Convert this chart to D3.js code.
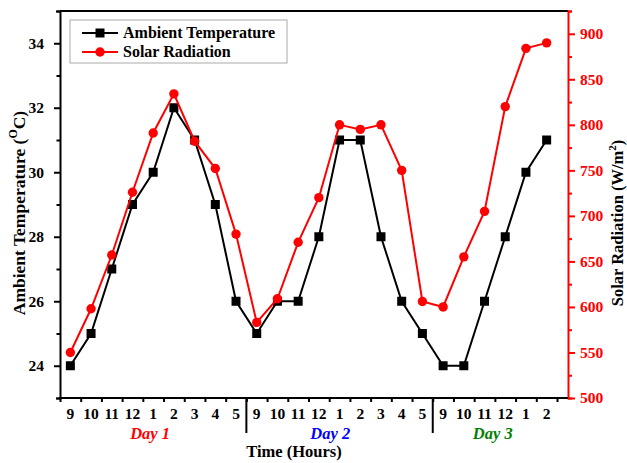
<!DOCTYPE html>
<html>
<head>
<meta charset="utf-8">
<script src="https://cdn.jsdelivr.net/npm/d3@7"></script>
<style>
  html, body { margin: 0; padding: 0; background: #fff; }
  svg { display: block; font-family: "Liberation Serif", "Times New Roman", serif; font-weight: bold; }
</style>
</head>
<body>
<svg id="chart" width="627" height="463"></svg>
<script>
// Hour labels for the three measurement days
const hours = ["9","10","11","12","1","2","3","4","5",
               "9","10","11","12","1","2","3","4","5",
               "9","10","11","12","1","2"];
const dayNames = ["Day 1", "Day 2", "Day 3"];
const dayColors = ["#ff0000", "#0000ff", "#008000"];
const daySizes = [9, 9, 6];
// where each day name sits, in hour-slot units along the time axis
const dayLabelAt = [4.35, 13.05, 20.9];

// Ambient temperature (°C)
const temperature = [24, 25, 27, 29, 30, 32, 31, 29, 26,
                     25, 26, 26, 28, 31, 31, 28, 26, 25,
                     24, 24, 26, 28, 30, 31];
// Solar radiation (W/m²)
const radiation = [550, 598, 657, 726, 791, 834, 782, 752, 680,
                   583, 609, 671, 720, 800, 795, 800, 750, 606,
                   600, 655, 705, 820, 884, 890];

const tempTicks = [24, 26, 28, 30, 32, 34];
const radTicks = [500, 550, 600, 650, 700, 750, 800, 850, 900];

const svg = d3.select("#chart");
const plotL = 60, plotR = 568, plotT = 11, plotB = 398, bandEnd = 557;

const idx = d3.range(hours.length);
const x = d3.scaleBand().domain(idx).range([plotL, bandEnd]).padding(0);
const xb = d3.scaleLinear().domain([0, hours.length]).range([plotL, bandEnd]);
const yT = d3.scaleLinear().domain([23, 35]).range([plotB, plotT]);
const yR = d3.scaleLinear().domain([500, 925]).range([plotB, plotT]);
const cx = i => x(i) + x.bandwidth() / 2;

// Frame: top edge
svg.append("line").attr("x1", plotL).attr("x2", plotR).attr("y1", plotT).attr("y2", plotT)
  .attr("stroke", "#000").attr("stroke-width", 2);

// Left axis (temperature)
const gL = svg.append("g").attr("transform", `translate(${plotL},0)`);
gL.call(d3.axisLeft(yT).tickValues(d3.range(23, 36)).tickSizeOuter(0).tickSize(4).tickFormat(""));
gL.selectAll(".tick line").attr("stroke-width", 2)
  .attr("x2", d => tempTicks.includes(d) ? -6 : -3.5);
gL.select(".domain").attr("stroke-width", 2);
const gL2 = svg.append("g").attr("transform", `translate(${plotL},0)`);
gL2.call(d3.axisLeft(yT).tickValues(tempTicks).tickSize(0).tickPadding(16));
gL2.select(".domain").remove();
gL2.selectAll("text").attr("font-size", 15.5).attr("font-weight", "bold")
  .attr("font-family", "Liberation Serif").attr("fill", "#000");

// Right axis (radiation)
const gR = svg.append("g").attr("transform", `translate(${plotR},0)`);
gR.call(d3.axisRight(yR).tickValues(d3.range(500, 926, 25)).tickSizeOuter(0).tickSize(4).tickFormat(""));
gR.selectAll(".tick line").attr("stroke", "#ff0000").attr("stroke-width", 2)
  .attr("x2", d => radTicks.includes(d) ? 7 : 4);
gR.select(".domain").attr("stroke", "#ff0000").attr("stroke-width", 2);
const gR2 = svg.append("g").attr("transform", `translate(${plotR},0)`);
gR2.call(d3.axisRight(yR).tickValues(radTicks).tickSize(0).tickPadding(12));
gR2.select(".domain").remove();
gR2.selectAll("text").attr("font-size", 15.5).attr("font-weight", "bold")
  .attr("font-family", "Liberation Serif").attr("fill", "#ff0000");

// Bottom axis: ticks at band edges, hour labels at band centers
const gB = svg.append("g").attr("transform", `translate(0,${plotB})`);
gB.call(d3.axisBottom(xb).tickValues(d3.range(hours.length + 1)).tickSize(4).tickSizeOuter(0).tickFormat(""));
gB.select(".domain").remove();
gB.selectAll(".tick line").attr("stroke-width", 2);
svg.append("line").attr("x1", plotL - 1).attr("x2", plotR).attr("y1", plotB).attr("y2", plotB)
  .attr("stroke", "#000").attr("stroke-width", 2);
const gB2 = svg.append("g").attr("transform", `translate(0,${plotB})`);
gB2.call(d3.axisBottom(x).tickFormat(i => hours[i]).tickSize(0).tickPadding(10));
gB2.select(".domain").remove();
gB2.selectAll("text").attr("font-size", 15.5).attr("font-weight", "bold")
  .attr("font-family", "Liberation Serif").attr("fill", "#000");

// Day separators and day names
let start = 0;
daySizes.forEach((n, d) => {
  if (d > 0) {
    svg.append("line").attr("x1", xb(start)).attr("x2", xb(start))
      .attr("y1", plotB).attr("y2", plotB + 35)
      .attr("stroke", "#000").attr("stroke-width", 2);
  }
  svg.append("text").attr("x", xb(dayLabelAt[d])).attr("y", 439)
    .attr("text-anchor", "middle").attr("font-size", 16.5).attr("font-style", "italic")
    .attr("fill", dayColors[d]).text(dayNames[d]);
  start += n;
});

svg.append("text").attr("x", 294).attr("y", 457).attr("text-anchor", "middle")
  .attr("font-size", 16.5).attr("fill", "#000").text("Time (Hours)");

// Axis titles
const tL = svg.append("text").attr("transform", "translate(25,213) rotate(-90)")
  .attr("text-anchor", "middle").attr("font-size", 17.5).attr("fill", "#000");
tL.append("tspan").text("Ambient Temperature (");
tL.append("tspan").attr("font-size", 12).attr("dy", -8).text("O");
tL.append("tspan").attr("dy", 8).text("C)");

const tR = svg.append("text").attr("transform", "translate(623,223) rotate(-90)")
  .attr("text-anchor", "middle").attr("font-size", 16.5).attr("fill", "#000");
tR.append("tspan").text("Solar Radiation (W/m");
tR.append("tspan").attr("font-size", 11).attr("dy", -7).text("2");
tR.append("tspan").attr("dy", 7).text(")");

// Series lines and markers
const lineT = d3.line().x((d, i) => cx(i)).y(d => yT(d));
const lineR = d3.line().x((d, i) => cx(i)).y(d => yR(d));

svg.append("path").datum(temperature).attr("d", lineT)
  .attr("fill", "none").attr("stroke", "#000").attr("stroke-width", 2);
svg.append("g").selectAll("rect").data(temperature).join("rect")
  .attr("x", (d, i) => cx(i) - 4.5).attr("y", d => yT(d) - 4.5)
  .attr("width", 9).attr("height", 9).attr("fill", "#000");

svg.append("path").datum(radiation).attr("d", lineR)
  .attr("fill", "none").attr("stroke", "#ff0000").attr("stroke-width", 2);
svg.append("g").selectAll("circle").data(radiation).join("circle")
  .attr("cx", (d, i) => cx(i)).attr("cy", d => yR(d)).attr("r", 4.7)
  .attr("fill", "#ff0000");

// Legend
const lg = svg.append("g");
lg.append("rect").attr("x", 70).attr("y", 20).attr("width", 217).attr("height", 43)
  .attr("fill", "#fff").attr("stroke", "#aaaaaa").attr("stroke-width", 1);
const items = [
  { label: "Ambient Temperature", color: "#000", shape: "square", y: 33 },
  { label: "Solar Radiation", color: "#ff0000", shape: "circle", y: 52 }
];
items.forEach(it => {
  lg.append("line").attr("x1", 82).attr("x2", 118).attr("y1", it.y).attr("y2", it.y)
    .attr("stroke", it.color).attr("stroke-width", 2);
  if (it.shape === "square") {
    lg.append("rect").attr("x", 100 - 4.5).attr("y", it.y - 4.5).attr("width", 9).attr("height", 9).attr("fill", it.color);
  } else {
    lg.append("circle").attr("cx", 100).attr("cy", it.y).attr("r", 4.7).attr("fill", it.color);
  }
  lg.append("text").attr("x", 123).attr("y", it.y + 5).attr("font-size", 16)
    .attr("fill", "#000").text(it.label);
});
</script>
</body>
</html>
